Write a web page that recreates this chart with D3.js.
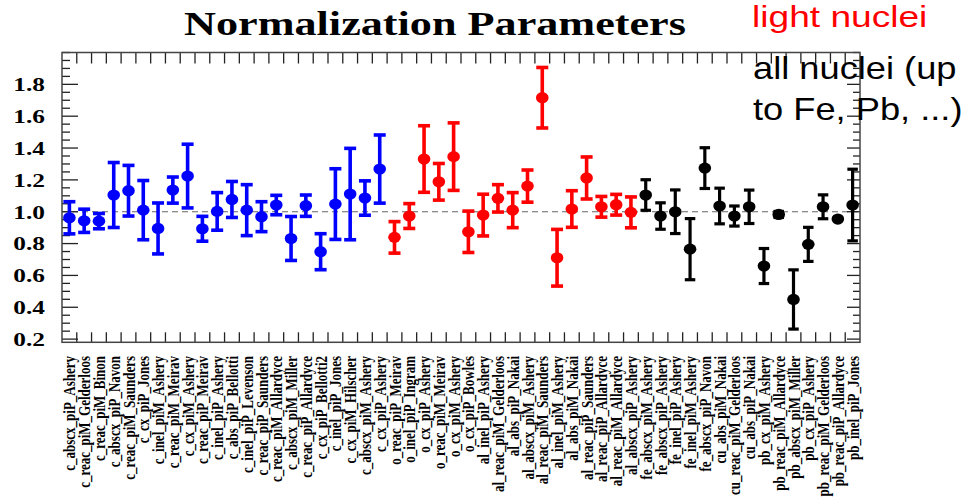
<!DOCTYPE html>
<html>
<head>
<meta charset="utf-8">
<script src="https://cdn.jsdelivr.net/npm/d3@7"></script>
<style>
  html, body { margin: 0; padding: 0; background: #fff; }
  svg { display: block; }
</style>
</head>
<body>
<svg id="chart" width="972" height="504"></svg>
<script>
// ---------------- data ----------------
const labels = [
  "c_abscx_piP_Ashery", "c_reac_piM_Gelderloos", "c_reac_piM_Binon", "c_abscx_piP_Navon",
  "c_reac_piM_Saunders", "c_cx_piP_Jones", "c_inel_piM_Ashery", "c_reac_piM_Meirav",
  "c_cx_piM_Ashery", "c_reac_piP_Meirav", "c_inel_piP_Ashery", "c_abs_piP_Bellotti",
  "c_inel_piP_Levenson", "c_reac_piP_Saunders", "c_reac_piM_Allardyce", "c_abscx_piM_Miller",
  "c_reac_piP_Allardyce", "c_cx_piP_Bellotti2", "c_inel_piP_Jones", "c_cx_piM_Hilscher",
  "c_abscx_piM_Ashery", "c_cx_piP_Ashery",
  "o_reac_piP_Meirav", "o_inel_piP_Ingram", "o_cx_piP_Ashery", "o_reac_piM_Meirav",
  "o_cx_piM_Ashery", "o_cx_piP_Bowles",
  "al_inel_piP_Ashery", "al_reac_piM_Gelderloos", "al_abs_piP_Nakai", "al_abscx_piM_Ashery",
  "al_reac_piM_Saunders", "al_inel_piM_Ashery", "al_abs_piM_Nakai", "al_reac_piP_Saunders",
  "al_reac_piP_Allardyce", "al_reac_piM_Allardyce", "al_abscx_piP_Ashery",
  "fe_abscx_piM_Ashery", "fe_abscx_piP_Ashery", "fe_inel_piP_Ashery", "fe_inel_piM_Ashery",
  "fe_abscx_piP_Navon",
  "cu_abs_piM_Nakai", "cu_reac_piM_Gelderloos", "cu_abs_piP_Nakai",
  "pb_cx_piM_Ashery", "pb_reac_piM_Allardyce", "pb_abscx_piM_Miller", "pb_cx_piP_Ashery",
  "pb_reac_piM_Gelderloos", "pb_reac_piP_Allardyce", "pb_inel_piP_Jones"
];
const values = [
  0.962, 0.943, 0.941, 1.105, 1.132, 1.010, 0.895, 1.136, 1.224, 0.893, 1.002, 1.077,
  1.010, 0.969, 1.042, 0.832, 1.038, 0.749, 1.048, 1.111, 1.086, 1.268,
  0.839, 0.973, 1.331, 1.188, 1.346, 0.874,
  0.979, 1.084, 1.010, 1.161, 1.716, 0.711, 1.017, 1.212, 1.031, 1.044, 0.996,
  1.105, 0.973, 1.000, 0.765, 1.274,
  1.036, 0.973, 1.031,
  0.659, 0.983, 0.449, 0.795, 1.031, 0.954, 1.042
];
const errors = [
  0.101, 0.073, 0.048, 0.204, 0.159, 0.186, 0.160, 0.082, 0.200, 0.078, 0.118, 0.113,
  0.160, 0.094, 0.061, 0.138, 0.067, 0.113, 0.222, 0.287, 0.108, 0.214,
  0.099, 0.078, 0.209, 0.115, 0.212, 0.130,
  0.131, 0.086, 0.110, 0.101, 0.190, 0.178, 0.115, 0.132, 0.065, 0.065, 0.097,
  0.096, 0.083, 0.137, 0.192, 0.128,
  0.112, 0.063, 0.105,
  0.110, 0.019, 0.186, 0.107, 0.075, 0.000, 0.225
];
const groupColors = { c: "#0000ff", o: "#ff0000", al: "#ff0000", fe: "#000000", cu: "#000000", pb: "#000000" };
const yTickLabels = [0.2, 0.4, 0.6, 0.8, 1.0, 1.2, 1.4, 1.6, 1.8];
const title = "Normalization Parameters";
const legendLight = "light nuclei";
const legendAll = ["all nuclei (up", "to Fe, Pb, ...)"];

// ---------------- layout ----------------
const svg = d3.select("#chart");
const frame = { left: 62, right: 860, top: 52.5, bottom: 342.3 };
const stretch = 1.3;

const x = d3.scaleBand().domain(labels).range([frame.left, frame.right]).padding(0);
const y = d3.scaleLinear().domain([0.18, 2.0]).range([frame.bottom, frame.top]);
const bw = x.bandwidth();

// title
svg.append("text")
  .attr("transform", `translate(435,35) scale(${stretch},1)`)
  .attr("text-anchor", "middle")
  .attr("font-family", "Liberation Serif, Times New Roman, serif")
  .attr("font-weight", "bold")
  .attr("font-size", 34)
  .attr("fill", "#000")
  .text(title);

// dashed reference line at 1.0
svg.append("line")
  .attr("x1", frame.left).attr("x2", frame.right)
  .attr("y1", y(1.0)).attr("y2", y(1.0))
  .attr("stroke", "#666").attr("stroke-width", 1.2)
  .attr("stroke-dasharray", "6,4");

// y ticks (major every 0.2, minor every 0.05)
const minorTicks = d3.range(0, 37).map(i => +(0.2 + i * 0.05).toFixed(2)).filter(v => v <= 2.0);
const tickG = svg.append("g").attr("stroke", "#222").attr("stroke-width", 1.3);
minorTicks.forEach(v => {
  const isMajor = yTickLabels.some(t => Math.abs(t - v) < 1e-6);
  const yy = y(v);
  tickG.append("line").attr("x1", frame.left).attr("x2", frame.left + (isMajor ? 16 : 8))
    .attr("y1", yy).attr("y2", yy);
  tickG.append("line").attr("x1", frame.right).attr("x2", frame.right - (isMajor ? 13 : 7))
    .attr("y1", yy).attr("y2", yy);
});

// x ticks at bin edges (top and bottom)
for (let i = 1; i < labels.length; i++) {
  const xx = frame.left + i * bw;
  tickG.append("line").attr("x1", xx).attr("x2", xx).attr("y1", frame.top).attr("y2", frame.top + 11);
  tickG.append("line").attr("x1", xx).attr("x2", xx).attr("y1", frame.bottom).attr("y2", frame.bottom - 10);
}

// frame
svg.append("rect")
  .attr("x", frame.left).attr("y", frame.top)
  .attr("width", frame.right - frame.left).attr("height", frame.bottom - frame.top)
  .attr("fill", "none").attr("stroke", "#444").attr("stroke-width", 1.5);

// y tick labels
svg.append("g").selectAll("text").data(yTickLabels).join("text")
  .attr("transform", d => `translate(45,${y(d)}) scale(${stretch},1)`)
  .attr("dy", "0.35em")
  .attr("text-anchor", "end")
  .attr("font-family", "Liberation Serif, Times New Roman, serif")
  .attr("font-weight", "bold")
  .attr("font-size", 19.5)
  .attr("fill", "#000")
  .text(d => d3.format(".1f")(d));

// x labels (rotated)
svg.append("g").selectAll("text").data(labels).join("text")
  .attr("transform", d => `translate(${x(d) + bw / 2},356) scale(${stretch},1) rotate(-90)`)
  .attr("dy", "0.36em")
  .attr("text-anchor", "end")
  .attr("font-family", "Liberation Serif, Times New Roman, serif")
  .attr("font-weight", "bold")
  .attr("font-size", 13)
  .attr("fill", "#000")
  .text(d => d);

// data points with error bars
const pts = labels.map((l, i) => ({
  label: l, v: values[i], e: errors[i], color: groupColors[l.split("_")[0]]
}));
const pg = svg.append("g");
pts.forEach(p => {
  const cx = x(p.label) + bw / 2;
  const isBlack = p.color === "#000000";
  const lw = isBlack ? 3.2 : 3.6;
  const capW = isBlack ? 10.5 : 12;
  if (p.e > 0) {
    pg.append("line").attr("x1", cx).attr("x2", cx)
      .attr("y1", y(p.v + p.e)).attr("y2", y(p.v - p.e))
      .attr("stroke", p.color).attr("stroke-width", lw);
    [p.v + p.e, p.v - p.e].forEach(v => {
      pg.append("line").attr("x1", cx - capW / 2).attr("x2", cx + capW / 2)
        .attr("y1", y(v)).attr("y2", y(v))
        .attr("stroke", p.color).attr("stroke-width", lw);
    });
  }
  pg.append("ellipse").attr("cx", cx).attr("cy", y(p.v))
    .attr("rx", 6.3).attr("ry", 5.6).attr("fill", p.color);
});

// legend texts
svg.append("text")
  .attr("transform", "translate(752,27) scale(1.28,1)")
  .attr("font-family", "Liberation Sans, Arial, sans-serif")
  .attr("font-size", 29)
  .attr("fill", "#ff0000")
  .text(legendLight);
legendAll.forEach((t, i) => {
  svg.append("text")
    .attr("transform", `translate(753,${79 + i * 41}) scale(1.17,1)`)
    .attr("font-family", "Liberation Sans, Arial, sans-serif")
    .attr("font-size", 31)
    .attr("fill", "#000")
    .text(t);
});
</script>
</body>
</html>
